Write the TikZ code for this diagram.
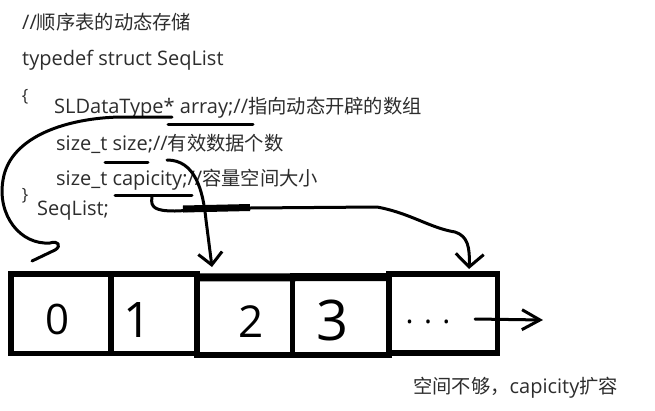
\documentclass[tikz,border=0pt]{standalone}
\usepackage{fontspec}
\setmainfont{Open Sans}
\newfontfamily\cjk{Noto Sans CJK SC}
\usetikzlibrary{arrows.meta}
\newcommand{\zh}[1]{{\cjk\fontsize{19.3pt}{22pt}\selectfont #1}}
\definecolor{txt}{RGB}{45,45,45}
\begin{document}
\begin{tikzpicture}[x=1pt,y=-1pt,
  code/.style={anchor=base west, inner sep=0pt, text=txt, font=\fontsize{20pt}{24pt}\selectfont},
  brace/.style={anchor=center, inner sep=0pt, text=txt, font=\fontsize{17pt}{19pt}\selectfont},
  cell/.style={draw, line width=5.5pt, outer sep=0pt, inner sep=0pt},
  digit/.style={inner sep=0pt, text=black},
  pen/.style={line width=3pt, line cap=round, line join=round}
]
\path[use as bounding box, fill=white] (0,0) rectangle (655,410);

% code text
\node[code] (c1) at (22,29) {//\zh{顺序表的动态存储}};
\node[code] (c2) at (22,65) {typedef struct SeqList};
\node[brace] (ob) at (25,97) {\{};
\node[code] (c3) at (54,113) {SLDataType* array;//\zh{指向动态开辟的数组}};
\node[code] (c4) at (56,150) {size\_t size;//\zh{有效数据个数}};
\node[code] (c5) at (56,185) {size\_t capicity;//\zh{容量空间大小}};
\node[brace] (cb) at (25,196) {\}};
\node[code] (c6) at (37,215) {SeqList;};
\node[code] (note) at (413,393) {\zh{空间不够，}capicity\zh{扩容}};

% array cells
\node[cell, minimum width=100pt, minimum height=79.5pt] (b0) at (61,313.75) {};
\node[cell, minimum width=86pt, minimum height=79.5pt] (b1) at (154,313.75) {};
\node[cell, minimum width=95.5pt, minimum height=78.5pt] (b2) at (244.75,315.75) {};
\node[cell, minimum width=96.5pt, minimum height=79pt] (b3) at (340.75,315.5) {};
\node[cell, minimum width=108.5pt, minimum height=79pt] (b4) at (443.25,313.5) {};
\draw[line width=8pt] ([yshift=-1pt]b2.north west) -- ([yshift=-1pt]b3.north east);

\node[digit, font=\fontsize{42pt}{44pt}\selectfont] (d0) at (58,319) {0};
\node[digit, font=\fontsize{49pt}{50pt}\selectfont] (d1) at (138,320) {1};
\node[digit, font=\fontsize{44pt}{46pt}\selectfont] (d2) at (251,322) {2};
\node[digit, font=\fontsize{56pt}{58pt}\selectfont] (d3) at (333,320) {3};
\node[digit, font=\fontsize{30pt}{32pt}\selectfont] (d4) at (428,322) {. . .};

% named points for the hand-drawn connectors
\coordinate (aS) at (172,117);
\coordinate (aU) at (120,117);
\coordinate (aE) at (32,261);
\coordinate (arrU1) at (168,124);
\coordinate (arrU2) at (253,124);
\coordinate (sU1) at (105,162);
\coordinate (sU2) at (148,162);
\coordinate (sS) at (167,160);
\coordinate (sE) at (212,267);
\coordinate (cU1) at (115,195);
\coordinate (cU2) at (192,195);
\coordinate (cS) at (152,197);
\coordinate (cE) at (469,269);
\coordinate (gS) at (475,319);
\coordinate (gE) at (543,320);

% underlines
\draw[pen] (arrU1) -- (arrU2);
\draw[pen] (sU1) -- (sU2);
\draw[pen] (cU1) -- (cU2);

% array pointer -> cell 0
\draw[pen] (aS) -- (aU) .. controls (70,118) and (10,135) .. (3,180)
  .. controls (-3,215) and (20,245) .. (50,243)
  .. controls (58,240) and (62,246) .. (55,250) -- (aE);

% size -> cell 2
\draw[pen, -{Straight Barb[length=12pt,width=24pt]}] (sS) .. controls (195,160) and (203,190) .. (206,220) -- (sE);

% capicity -> cell 4
\draw[pen, -{Straight Barb[length=13pt,width=28pt]}] (cS) .. controls (150,208) and (156,211) .. (175,211) -- (250,208) -- (377,207)
  .. controls (410,213) and (430,228) .. (455,232)
  .. controls (468,236) and (470,248) .. (cE);
\draw[line width=7pt] (183,209) -- (250,207.5);

% growth arrow
\draw[pen, -{Straight Barb[length=18pt,width=20pt]}] (gS) -- (gE);
\end{tikzpicture}
\end{document}
